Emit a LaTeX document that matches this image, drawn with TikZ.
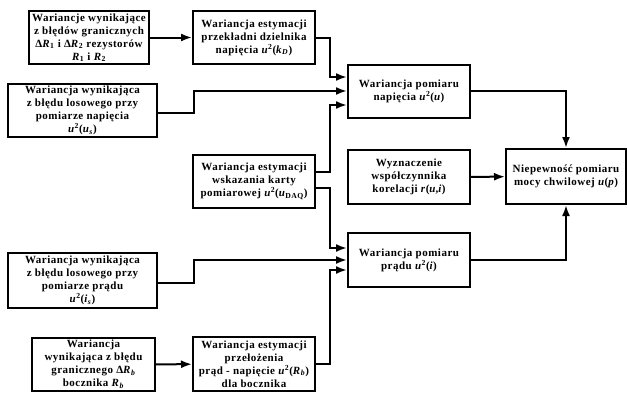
\documentclass[tikz,border=0pt]{standalone}
\usepackage{fontspec}
\setmainfont{Liberation Serif}[LetterSpace=4.5]
\usetikzlibrary{arrows.meta}
\newcommand{\usq}[1]{\textit{u}\textsuperscript{2}(#1)}
\tikzset{
  box/.style={draw, line width=2pt, align=center, inner sep=1pt,
    minimum width=122, minimum height=53,
    font=\fontsize{11}{13}\selectfont\bfseries},
  widebox/.style={box, minimum width=149},
  link/.style={line width=2pt, -{Latex[length=11pt,width=8pt]}}
}
\begin{document}
\begin{tikzpicture}[x=1pt,y=-1pt]
\useasboundingbox (0,0) rectangle (627,392);
% left column
\node[box, minimum width=120] (grR) at (89,37.5) {Wariancje wynikające\\z błędów granicznych\\Δ\textit{R}\textsubscript{1} i Δ\textit{R}\textsubscript{2} rezystorów\\\textit{R}\textsubscript{1} i \textit{R}\textsubscript{2}};
\node[widebox] (losU) at (82.5,110.5) {Wariancja wynikająca\\z błędu losowego przy\\pomiarze napięcia\\\usq{\textit{u}\textsubscript{\textit{s}}}};
\node[widebox, minimum height=55] (losI) at (82.5,280.5) {Wariancja wynikająca\\z błędu losowego przy\\pomiarze prądu\\\usq{\textit{i}\textsubscript{\textit{s}}}};
\node[box, minimum width=123] (grRb) at (93.5,364.5) {Wariancja\\wynikająca z błędu\\granicznego Δ\textit{R}\textsubscript{\textit{b}}\\bocznika \textit{R}\textsubscript{\textit{b}}};
% middle column
\node[box] (kD) at (254,37.5) {Wariancja estymacji\\przekładni dzielnika\\napięcia \usq{\textit{k}\textsubscript{\textit{D}}}};
\node[box] (daq) at (254,181) {Wariancja estymacji\\wskazania karty\\pomiarowej \usq{\textit{u}\textsubscript{DAQ}}};
\node[box, minimum height=54] (Rb) at (254,364) {Wariancja estymacji\\przełożenia\\prąd - napięcie \usq{\textit{R}\textsubscript{\textit{b}}}\\dla bocznika};
% right part
\node[box] (pomU) at (409,91) {Wariancja pomiaru\\napięcia \usq{\textit{u}}};
\node[box, minimum height=54] (kor) at (409,177) {Wyznaczenie\\współczynnika\\korelacji \textit{r}(\textit{u},\textit{i})};
\node[box, minimum height=54] (pomI) at (409,260) {Wariancja pomiaru\\prądu \usq{\textit{i}}};
\node[box, minimum width=120, minimum height=55] (moc) at (566,176.5) {Niepewność pomiaru\\mocy chwilowej \textit{u}(\textit{p})};
% routing points
\coordinate (bus) at (330,0);
\coordinate (jog) at (194,0);
\coordinate (uA) at ([yshift=14pt]pomU.west);
\coordinate (uC) at ([yshift=-14pt]pomU.west);
\coordinate (iA) at ([yshift=12pt]pomI.west);
\coordinate (iC) at ([yshift=-10pt]pomI.west);
\coordinate (daqA) at ([yshift=9pt]daq.east);
\coordinate (daqB) at ([yshift=-7pt]daq.east);
\coordinate (losUo) at ([yshift=-2.5pt]losU.east);
\coordinate (losIo) at ([yshift=-2.5pt]losI.east);
% connectors
\draw[link] (grR) -- (kD);
\draw[link] (grRb) -- (Rb);
\draw[link] (kD.east) -- (kD.east -| bus) -- (bus |- uA) -- (uA);
\draw[link] (losUo) -- (losUo -| jog) -- (jog |- pomU.west) -- (pomU.west);
\draw[link] (daqA) -- (daqA -| bus) -- (bus |- uC) -- (uC);
\draw[link] (daqB) -- (daqB -| bus) -- (bus |- iA) -- (iA);
\draw[link] (losIo) -- (losIo -| jog) -- (jog |- pomI.west) -- (pomI.west);
\draw[link] (Rb.east) -- (Rb.east -| bus) -- (bus |- iC) -- (iC);
\draw[link] (pomU.east) -| (moc.north);
\draw[link] (kor) -- (moc);
\draw[link] (pomI.east) -| (moc.south);
\end{tikzpicture}
\end{document}
